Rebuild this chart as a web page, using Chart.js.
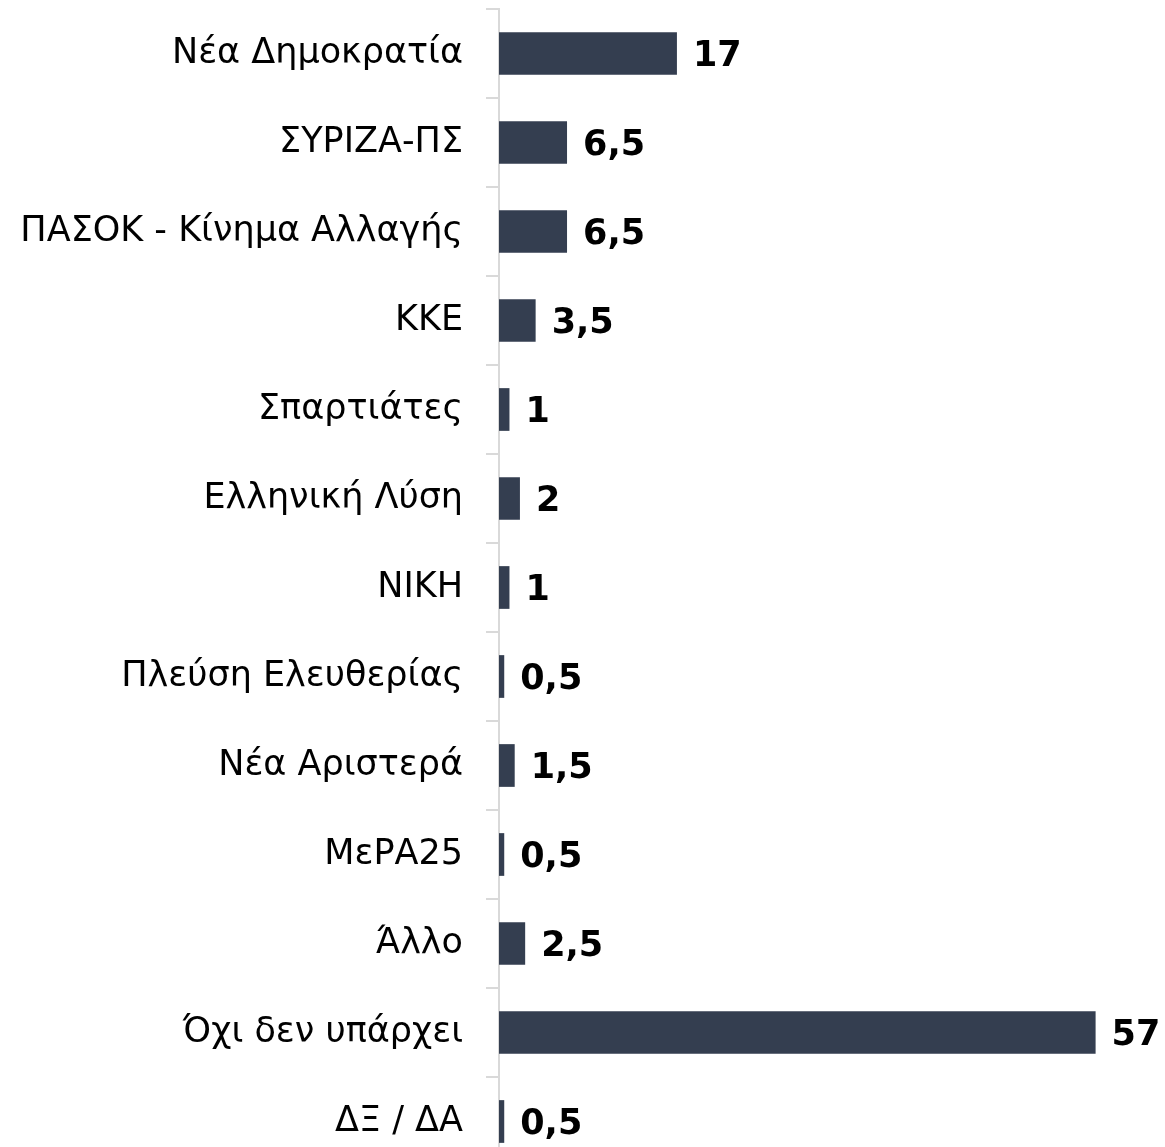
<!DOCTYPE html>
<html>
<head>
<meta charset="utf-8">
<script src="https://cdn.jsdelivr.net/npm/chart.js@4.4.0/dist/chart.umd.min.js"></script>
<style>
  html, body { margin: 0; padding: 0; background: #fff; overflow: hidden; }
  #wrap { width: 1165px; height: 1170px; }
</style>
</head>
<body>
<div id="wrap"><canvas id="chart"></canvas></div>
<script>
// categories and values
const parties = [
  'Νέα Δημοκρατία',
  'ΣΥΡΙΖΑ-ΠΣ',
  'ΠΑΣΟΚ - Κίνημα Αλλαγής',
  'ΚΚΕ',
  'Σπαρτιάτες',
  'Ελληνική Λύση',
  'ΝΙΚΗ',
  'Πλεύση Ελευθερίας',
  'Νέα Αριστερά',
  'ΜεΡΑ25',
  'Άλλο',
  'Όχι δεν υπάρχει',
  'ΔΞ / ΔΑ'
];
const shares = [17, 6.5, 6.5, 3.5, 1, 2, 1, 0.5, 1.5, 0.5, 2.5, 57, 0.5];

const barColor = '#343e50';
const axisColor = '#d9d9d9';

// draws the value next to each bar
const valueLabels = {
  id: 'valueLabels',
  afterDatasetsDraw(chart) {
    const ctx = chart.ctx;
    const meta = chart.getDatasetMeta(0);
    ctx.save();
    ctx.font = 'bold 35px "DejaVu Sans"';
    ctx.fillStyle = '#000';
    ctx.textAlign = 'left';
    ctx.textBaseline = 'middle';
    meta.data.forEach((bar, i) => {
      const txt = String(shares[i]).replace('.', ',');
      ctx.fillText(txt, bar.x + 16, bar.y + 3);
    });
    ctx.restore();
  }
};

new Chart(document.getElementById('chart'), {
  type: 'bar',
  data: {
    labels: parties,
    datasets: [{
      data: shares,
      backgroundColor: barColor,
      borderWidth: 0,
      categoryPercentage: 1,
      barPercentage: 0.48
    }]
  },
  options: {
    indexAxis: 'y',
    responsive: true,
    maintainAspectRatio: false,
    animation: false,
    layout: {
      padding: { top: 9, right: 38, bottom: 4, left: 0 }
    },
    scales: {
      x: {
        display: false,
        min: 0,
        max: 60
      },
      y: {
        afterFit: (s) => {
          s.width = 499;
          s.paddingTop = 0;
          s.paddingBottom = 0;
        },
        grid: {
          offset: true,
          drawOnChartArea: false,
          tickLength: 13,
          color: axisColor,
          lineWidth: 2
        },
        border: { color: axisColor, width: 2 },
        ticks: {
          padding: 23,
          color: '#000',
          font: { family: '"DejaVu Sans"', size: 35 }
        }
      }
    },
    plugins: {
      legend: { display: false },
      tooltip: { enabled: false }
    }
  },
  plugins: [valueLabels]
});
</script>
</body>
</html>
